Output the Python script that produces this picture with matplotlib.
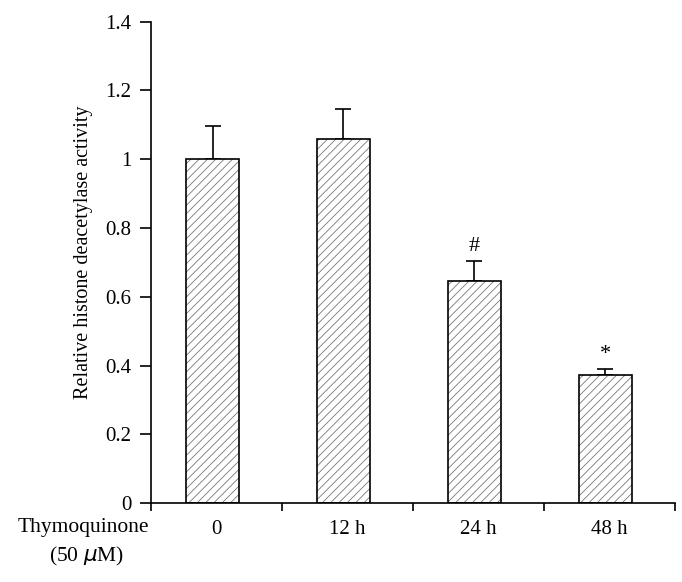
import numpy as np
import matplotlib.pyplot as plt

plt.rcParams['font.family'] = ['Liberation Serif', 'DejaVu Serif']
plt.rcParams['hatch.linewidth'] = 0.6

categories = ['0', '12 h', '24 h', '48 h']
values = [1.0, 1.06, 0.646, 0.372]
errors = [0.096, 0.085, 0.057, 0.018]
marks = ['', '', '#', '*']

fig = plt.figure(figsize=(6.82, 5.82), dpi=100)
ax = fig.add_axes([0.2214, 0.1357, 0.768, 0.827])

x = np.arange(len(categories))
width = 0.4

# hatch in grey, outline in black
ax.bar(x - 0.03, values, width, color='white', edgecolor='#777777', hatch='////', linewidth=0, zorder=2)
ax.bar(x - 0.03, values, width, fill=False, edgecolor='black', linewidth=1.2, zorder=3)
ax.errorbar(x - 0.03, values, yerr=[np.zeros(len(values)), errors], fmt='none',
            ecolor='black', elinewidth=1.2, capsize=6, capthick=1.2, zorder=1)

for xi, v, e, m in zip(x - 0.03, values, errors, marks):
    if m:
        ax.text(xi, v + e + 0.015, m, ha='center', va='bottom', fontsize=16)

ax.set_xlim(-0.5, len(categories) - 0.5)
ax.set_ylim(0, 1.4)
ax.set_yticks(np.arange(0, 1.41, 0.2))
ax.set_yticklabels(['0', '0.2', '0.4', '0.6', '0.8', '1', '1.2', '1.4'])
ax.set_xticks(np.arange(len(categories) + 1) - 0.5)
ax.set_xticklabels([])
ax.set_xticks(x, minor=True)
ax.set_xticklabels(categories, minor=True)
ax.tick_params(axis='x', which='minor', length=0, labelsize=15, pad=12)
ax.tick_params(axis='x', which='major', direction='out', length=6, width=1.2)
ax.tick_params(axis='y', direction='out', length=8, width=1.2, labelsize=15, pad=6)

for s in ['top', 'right']:
    ax.spines[s].set_visible(False)
for s in ['left', 'bottom']:
    ax.spines[s].set_linewidth(1.2)

ax.set_ylabel('Relative histone deacetylase activity', fontsize=14.5)
ax.yaxis.set_label_coords(-0.111, 0.52)
ax.text(-0.13, -0.05, 'Thymoquinone', transform=ax.transAxes, ha='center', va='center', fontsize=15.5)
ax.text(-0.124, -0.112, r'(50 $\mu$M)', transform=ax.transAxes, ha='center', va='center', fontsize=15.5)

fig.savefig('out.png', dpi=100)
